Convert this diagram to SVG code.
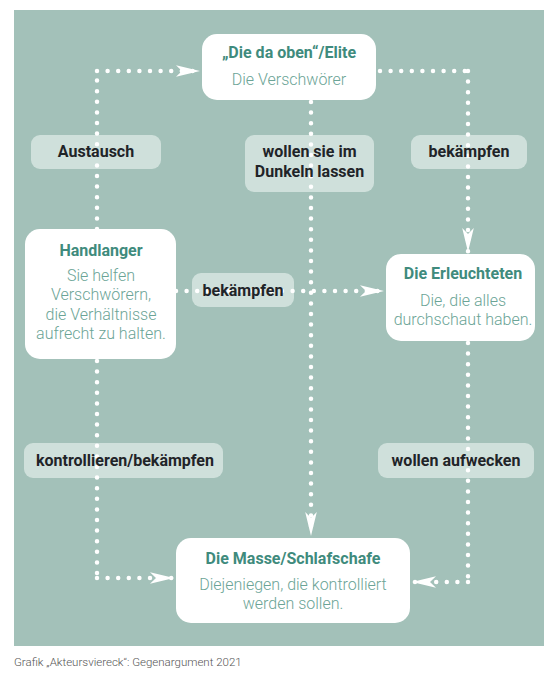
<svg xmlns="http://www.w3.org/2000/svg" width="559" height="682" viewBox="0 0 559 682">
<style>
.bg{fill:#a3c1b9}
.lbl{fill:#cfe0db}
.lt{font-family:Roboto,"Liberation Sans",sans-serif;font-weight:700;font-size:16px;fill:#1f2428;text-anchor:middle}
.node{fill:#ffffff}
.nt{font-family:Roboto,"Liberation Sans",sans-serif;font-weight:700;font-size:16px;fill:#3f8b7d;text-anchor:middle}
.ns{font-family:Roboto,"Liberation Sans",sans-serif;font-weight:300;font-size:16px;fill:#6ba496;text-anchor:middle}
.con{fill:none;stroke:#ffffff;stroke-width:4.5;stroke-linecap:round;stroke-dasharray:0 10.6}
.cap{font-family:Roboto,"Liberation Sans",sans-serif;font-weight:300;font-size:11.5px;fill:#555555}
</style>
<defs>
<marker id="arr" markerUnits="userSpaceOnUse" viewBox="-24 -6 24 12" refX="0" refY="0" markerWidth="24" markerHeight="12" orient="auto" overflow="visible">
<path d="M0,0 L-24,-5.8 L-18,0 L-24,5.8 Z" fill="#ffffff"/>
</marker>
</defs>
<rect class="bg" x="14" y="10" width="530" height="636"/>
<g id="label-boxes">
<rect class="lbl" x="31" y="135" width="130" height="34" rx="9"/>
<rect class="lbl" x="245" y="135" width="129" height="57" rx="9"/>
<rect class="lbl" x="411" y="135" width="116" height="34" rx="9"/>
<rect class="lbl" x="192" y="273" width="102" height="34" rx="9"/>
<rect class="lbl" x="24" y="443" width="199" height="35" rx="9"/>
<rect class="lbl" x="378" y="443" width="156" height="35" rx="9"/>
</g>
<g id="connectors">
<path class="con" d="M97,229 V71 M97,71 H200" marker-end="url(#arr)"/>
<path class="con" d="M380,71 H468 M468,71 V252" marker-end="url(#arr)"/>
<path class="con" d="M311,102 V536" marker-end="url(#arr)"/>
<path class="con" d="M176,291 H384" marker-end="url(#arr)"/>
<path class="con" d="M97,361 V578 M97,578 H174" marker-end="url(#arr)"/>
<path class="con" d="M468,343 V582 M468,582 H412" marker-end="url(#arr)"/>
</g>
<g id="label-texts">
<text class="lt" x="96" y="157">Austausch</text>
<text class="lt" x="309.5" y="157">wollen sie im</text>
<text class="lt" x="309.5" y="177">Dunkeln lassen</text>
<text class="lt" x="469" y="157">bekämpfen</text>
<text class="lt" x="243" y="296">bekämpfen</text>
<text class="lt" x="125" y="466">kontrollieren/bekämpfen</text>
<text class="lt" x="456" y="466">wollen aufwecken</text>
</g>
<g id="node-elite">
<rect class="node" x="202" y="34" width="174" height="66" rx="15"/>
<text class="nt" x="289" y="58">„Die da oben“/Elite</text>
<text class="ns" x="289" y="85">Die Verschwörer</text>
</g>
<g id="node-handlanger">
<rect class="node" x="25" y="229" width="151" height="130" rx="15"/>
<text class="nt" x="101" y="256">Handlanger</text>
<text class="ns" x="101" y="281">Sie helfen</text>
<text class="ns" x="101" y="300">Verschwörern,</text>
<text class="ns" x="101" y="320">die Verhältnisse</text>
<text class="ns" x="101" y="339">aufrecht zu halten.</text>
</g>
<g id="node-erleuchtete">
<rect class="node" x="386" y="254" width="149" height="87" rx="15"/>
<text class="nt" x="463" y="279">Die Erleuchteten</text>
<text class="ns" x="463" y="306">Die, die alles</text>
<text class="ns" x="463" y="325">durchschaut haben.</text>
</g>
<g id="node-masse">
<rect class="node" x="176" y="538" width="234" height="85" rx="15"/>
<text class="nt" x="293" y="564">Die Masse/Schlafschafe</text>
<text class="ns" x="293" y="590">Diejeniegen, die kontrolliert</text>
<text class="ns" x="293" y="609">werden sollen.</text>
</g>
<text class="cap" x="14" y="666">Grafik „Akteursviereck“: Gegenargument 2021</text>
</svg>
